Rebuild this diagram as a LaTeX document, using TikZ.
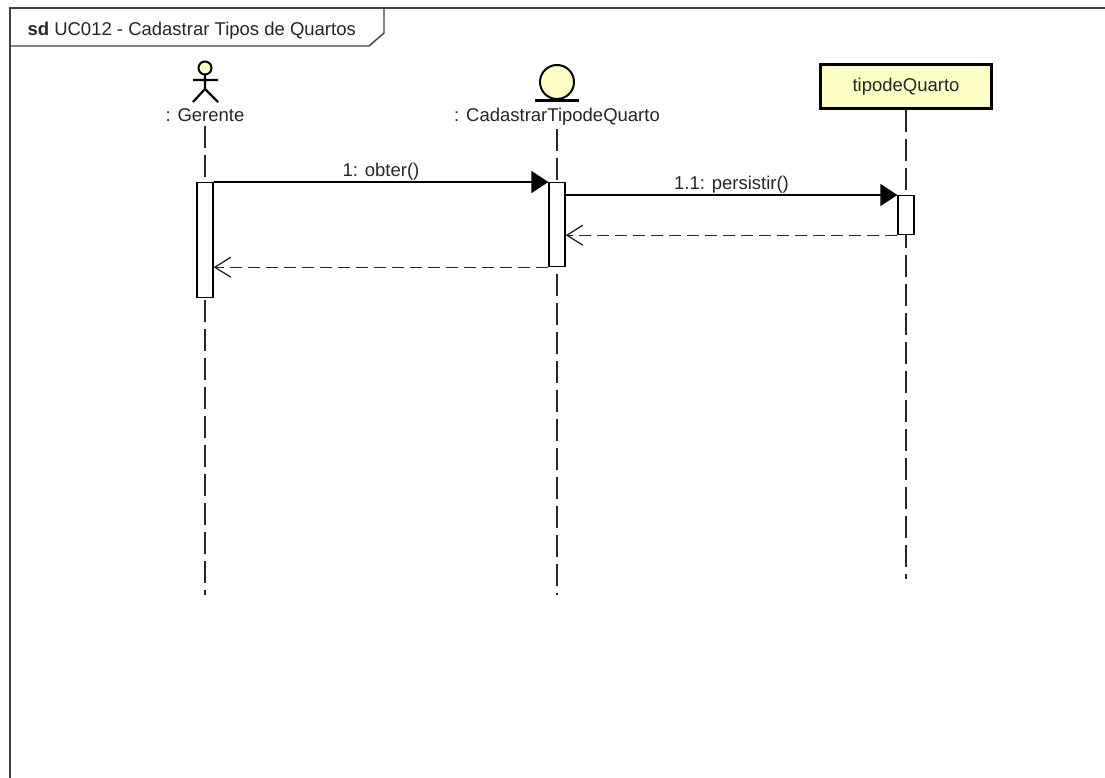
\documentclass[tikz,border=0pt]{standalone}
\usepackage{fontspec}
\setmainfont{Liberation Sans}
\usetikzlibrary{positioning,arrows.meta}
\definecolor{umlyellow}{RGB}{255,255,200}

\begin{document}
\begin{tikzpicture}[x=1pt,y=-1pt,
	txt/.style={font=\fontsize{18.5}{22}\selectfont, text=black!85},
	bar/.style={draw, fill=white, line width=1.2pt, minimum width=16pt, inner sep=0pt, anchor=north},
	life/.style={line width=1.4pt, black!85, dash pattern=on 22pt off 7pt},
	msg/.style={line width=1.3pt, -{Triangle[length=17pt,width=22pt]}},
	ret/.style={line width=1.3pt, black!85, dash pattern=on 12pt off 6pt, -{Straight Barb[length=16pt,width=20pt,line width=1.3pt]}}]
	\useasboundingbox (0,0) rectangle (1105,778);
	\draw[line width=1.4pt, black!75](10,790)--(10,8)--(1120,8);
	\draw[line width=1.4pt, black!75](10,46)--(369,46)--(384,33)--(384,8);
	\node[txt, anchor=base west] (title) at (24,36) {\textbf{sd} UC012 - Cadastrar Tipos de Quartos};
	
	\draw[line width=2pt, fill=umlyellow](205,68) circle (6.5pt);
	\draw[line width=2.2pt](205,74.5)--(205,89) (193,80)--(218,80) (193,102)--(205,89)--(218,102);
	\node[txt, anchor=base] (gerente) at (205,122) {: Gerente};
	
	\draw[line width=2pt, fill=umlyellow](557,82) circle (17pt);
	\draw[line width=3pt](535,101)--(579,101);
	\node[txt, anchor=base] (cadastrar) at (557,122) {: CadastrarTipodeQuarto};
	
	\node[txt, draw, line width=3pt, fill=umlyellow, minimum width=171pt, minimum height=44pt] (tipo) at (906,86.5) {tipodeQuarto};
	
	\coordinate (gend) at (205,595);
	\coordinate (cend) at (557,595);
	\coordinate (tend) at (906,579);
	\foreach \n/\e in {gerente/gend, cadastrar/cend, tipo/tend}{
		\draw[life](\n.south)--(\e);
	}
	
	\node[bar, minimum height=115pt] (gbar) at (205,182) {};
	\node[bar, minimum height=84pt] (cbar) at (557,182) {};
	\node[bar, minimum height=39pt] (tbar) at (906,195) {};
	
	\draw[msg](gbar.north east)-- node[txt, above, inner sep=1pt] (m1) {1: obter()} (cbar.north west);
	\draw[msg](cbar.east |- tbar.north)-- node[txt, above, inner sep=1pt] (m11) {1.1: persistir()} (tbar.north west);
	\draw[ret](tbar.south west)--(cbar.east |- tbar.south);
	\draw[ret](cbar.south west)--(gbar.east |- cbar.south);
\end{tikzpicture}
\end{document}
